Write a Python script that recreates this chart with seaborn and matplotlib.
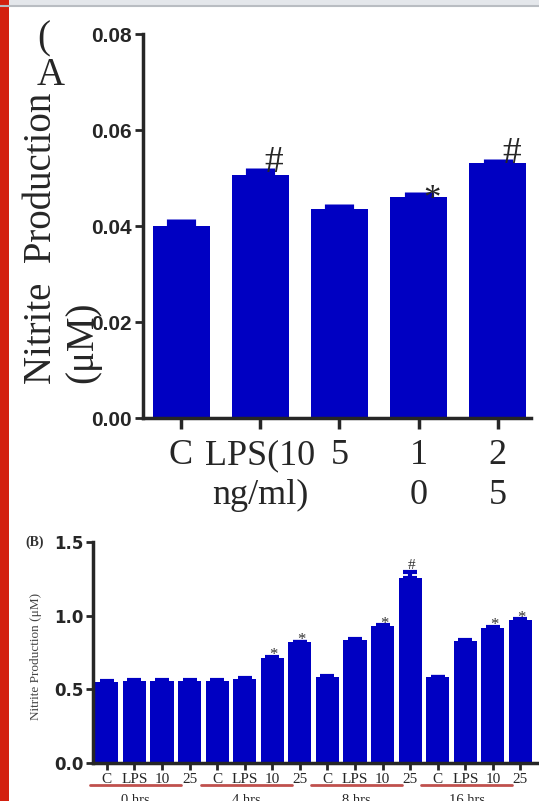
import numpy as np
import pandas as pd
import matplotlib
matplotlib.use('Agg')
import matplotlib.pyplot as plt
import matplotlib.transforms as mtransforms
import seaborn as sns
from matplotlib.patches import Rectangle
from matplotlib.ticker import FormatStrFormatter

# ---- data ----
# (A) nitrite vs LPS dose
a_labels = ['C', 'LPS(10\nng/ml)', '5', '1\n0', '2\n5']
a_mean = [0.0400, 0.0506, 0.0435, 0.0460, 0.0531]
a_sem = [0.0015, 0.0015, 0.0011, 0.0011, 0.0009]
a_marks = ['', '#', '', '*', '#']

# (B) time course
time_groups = ['0 hrs', '4 hrs', '8 hrs', '16 hrs']
doses = ['C', 'LPS', '10', '25']
b_mean = [0.548, 0.555, 0.557, 0.557,
          0.555, 0.568, 0.716, 0.818,
          0.583, 0.838, 0.932, 1.257,
          0.581, 0.831, 0.919, 0.973]
b_sem = [0.006, 0.008, 0.006, 0.006,
         0.006, 0.006, 0.006, 0.006,
         0.006, 0.006, 0.006, 0.040,
         0.006, 0.006, 0.006, 0.006]
b_marks = ['', '', '', '',
           '', '', '*', '*',
           '', '', '*', '#',
           '', '', '*', '*']

BLUE = '#0000C2'
SERIF = 'Liberation Serif'

sns.set_style('ticks')
plt.rcParams['font.family'] = ['Liberation Serif', 'DejaVu Serif']

fig = plt.figure(figsize=(5.39, 8.01), dpi=100)
W, H = 539, 801

# page decoration (screenshot frame)
fig.add_artist(Rectangle((0, 1 - 6 / H), 1, 6 / H, transform=fig.transFigure,
                         facecolor='#e4e7eb', edgecolor='none'))
fig.add_artist(plt.Line2D([0, 1], [1 - 6 / H, 1 - 6 / H], transform=fig.transFigure,
                          color='#b9bdc2', lw=1.5))
fig.add_artist(Rectangle((0, 0), 9 / W, 1, transform=fig.transFigure,
                         facecolor='#d3200f', edgecolor='none'))

# %%%%%%%%%%%%%%%%%%%%%%%%%%%%%%%%%%%%%%%%%%%%%%%%%%%%%%%%%%%%%%%%%%%%%%
#                         PANEL A
# %%%%%%%%%%%%%%%%%%%%%%%%%%%%%%%%%%%%%%%%%%%%%%%%%%%%%%%%%%%%%%%%%%%%%%
axA = fig.add_axes([143 / W, 1 - 418 / H, 388 / W, 384 / H])
dfA = pd.DataFrame({'group': a_labels, 'nitrite': a_mean})
sns.barplot(data=dfA, x='group', y='nitrite', color=BLUE, saturation=1,
            width=0.72, errorbar=None, linewidth=0, ax=axA)
xa = np.arange(len(a_mean))
# the SEM shows as a block half as wide as the bar
ebA = axA.errorbar(xa, a_mean, yerr=[np.zeros(len(a_sem)), a_sem], fmt='none',
                   ecolor=BLUE, elinewidth=21, capsize=0)
ebA[2][0].set_capstyle('butt')
for i, (m, s, mk) in enumerate(zip(a_mean, a_sem, a_marks)):
    if mk == '#':
        axA.annotate(mk, (i, m + s), xytext=(10, -3), textcoords='offset points',
                     ha='center', va='baseline', fontsize=27, family=SERIF)
    elif mk == '*':
        axA.annotate(mk, (i, m + s), xytext=(10, -12), textcoords='offset points',
                     ha='center', va='baseline', fontsize=25, family=SERIF)

axA.set_xlim(-0.48, 4.42)
axA.set_ylim(0, 0.08)
axA.set_yticks([0, 0.02, 0.04, 0.06, 0.08])
axA.yaxis.set_major_formatter(FormatStrFormatter('%.2f'))
axA.set_xlabel('')
axA.set_xticks(xa)
axA.set_xticklabels(a_labels, fontsize=26, family=SERIF, linespacing=1.3)
axA.tick_params(axis='y', length=6, width=2, pad=2, labelsize=15)
axA.tick_params(axis='x', length=8, width=2.5, pad=7)
for lbl in axA.get_yticklabels():
    lbl.set_family(['Liberation Sans', 'DejaVu Sans'])
    lbl.set_fontweight('bold')
for side in ['top', 'right']:
    axA.spines[side].set_visible(False)
for side in ['left', 'bottom']:
    axA.spines[side].set_linewidth(2.5)

axA.set_ylabel('Nitrite  Production', fontsize=28, family=SERIF)
axA.yaxis.set_label_coords(-0.214, 0.469)
fig.text(101 / W, 1 - 383 / H, '(μM)', rotation=90, ha='right', va='bottom',
         fontsize=28, family=SERIF)
fig.text(37 / W, 1 - 20 / H, '(\nA', ha='left', va='top', fontsize=28,
         family=SERIF, linespacing=1.0)

# %%%%%%%%%%%%%%%%%%%%%%%%%%%%%%%%%%%%%%%%%%%%%%%%%%%%%%%%%%%%%%%%%%%%%%
#                         PANEL B
# %%%%%%%%%%%%%%%%%%%%%%%%%%%%%%%%%%%%%%%%%%%%%%%%%%%%%%%%%%%%%%%%%%%%%%
axB = fig.add_axes([93 / W, 1 - 763 / H, 444 / W, 221 / H])
keys = [f'{t} {d}' for t in time_groups for d in doses]
dfB = pd.DataFrame({'cond': keys, 'nitrite': b_mean})
sns.barplot(data=dfB, x='cond', y='nitrite', color=BLUE, saturation=1,
            width=0.84, errorbar=None, linewidth=0, ax=axB)
xb = np.arange(len(b_mean))
axB.errorbar(xb, b_mean, yerr=[np.zeros(len(b_sem)), b_sem], fmt='none',
             ecolor=BLUE, elinewidth=3, capsize=5, capthick=3)
for i, (m, s, mk) in enumerate(zip(b_mean, b_sem, b_marks)):
    if mk == '#':
        axB.annotate(mk, (i, m + s), xytext=(1, 2), textcoords='offset points',
                     ha='center', va='baseline', fontsize=11, family=SERIF,
                     color='#333333')
    elif mk == '*':
        axB.annotate(mk, (i, m + s), xytext=(1, -2), textcoords='offset points',
                     ha='center', va='baseline', fontsize=12, family=SERIF,
                     color='#333333')

axB.set_xlim(-0.5, 15.6)
axB.set_ylim(0, 1.5)
axB.set_yticks([0, 0.5, 1.0, 1.5])
axB.yaxis.set_major_formatter(FormatStrFormatter('%.1f'))
axB.set_xlabel('')
axB.set_xticks(xb)
axB.set_xticklabels(doses * len(time_groups), fontsize=11, family=SERIF)
axB.tick_params(axis='y', length=5, width=2, pad=2, labelsize=12)
axB.tick_params(axis='x', length=5, width=2, pad=2)
for lbl in axB.get_yticklabels():
    lbl.set_family('DejaVu Sans')
    lbl.set_fontweight('bold')
for side in ['top', 'right']:
    axB.spines[side].set_visible(False)
for side in ['left', 'bottom']:
    axB.spines[side].set_linewidth(2.5)

axB.set_ylabel('Nitrite Production (μM)', fontsize=9.5, family=SERIF, color='#444444')
axB.yaxis.set_label_coords(-0.115, 0.48)

# group underlines and time labels
trans = mtransforms.blended_transform_factory(axB.transData, axB.transAxes)
for g, name in enumerate(time_groups):
    x0 = len(doses) * g - 0.6
    x1 = len(doses) * g + 2.7
    axB.plot([x0, x1], [-0.0995, -0.0995], transform=trans, clip_on=False,
             color='#c0504d', lw=2)
    axB.text((x0 + x1) / 2, -0.14, name, transform=trans, ha='center', va='top',
             fontsize=10.5, family=SERIF)

fig.text(25 / W, 1 - 549 / H, '(B)', ha='left', va='bottom', fontsize=10,
         family=SERIF, fontweight='bold', color='#333333')

fig.savefig('out.png', dpi=100)
